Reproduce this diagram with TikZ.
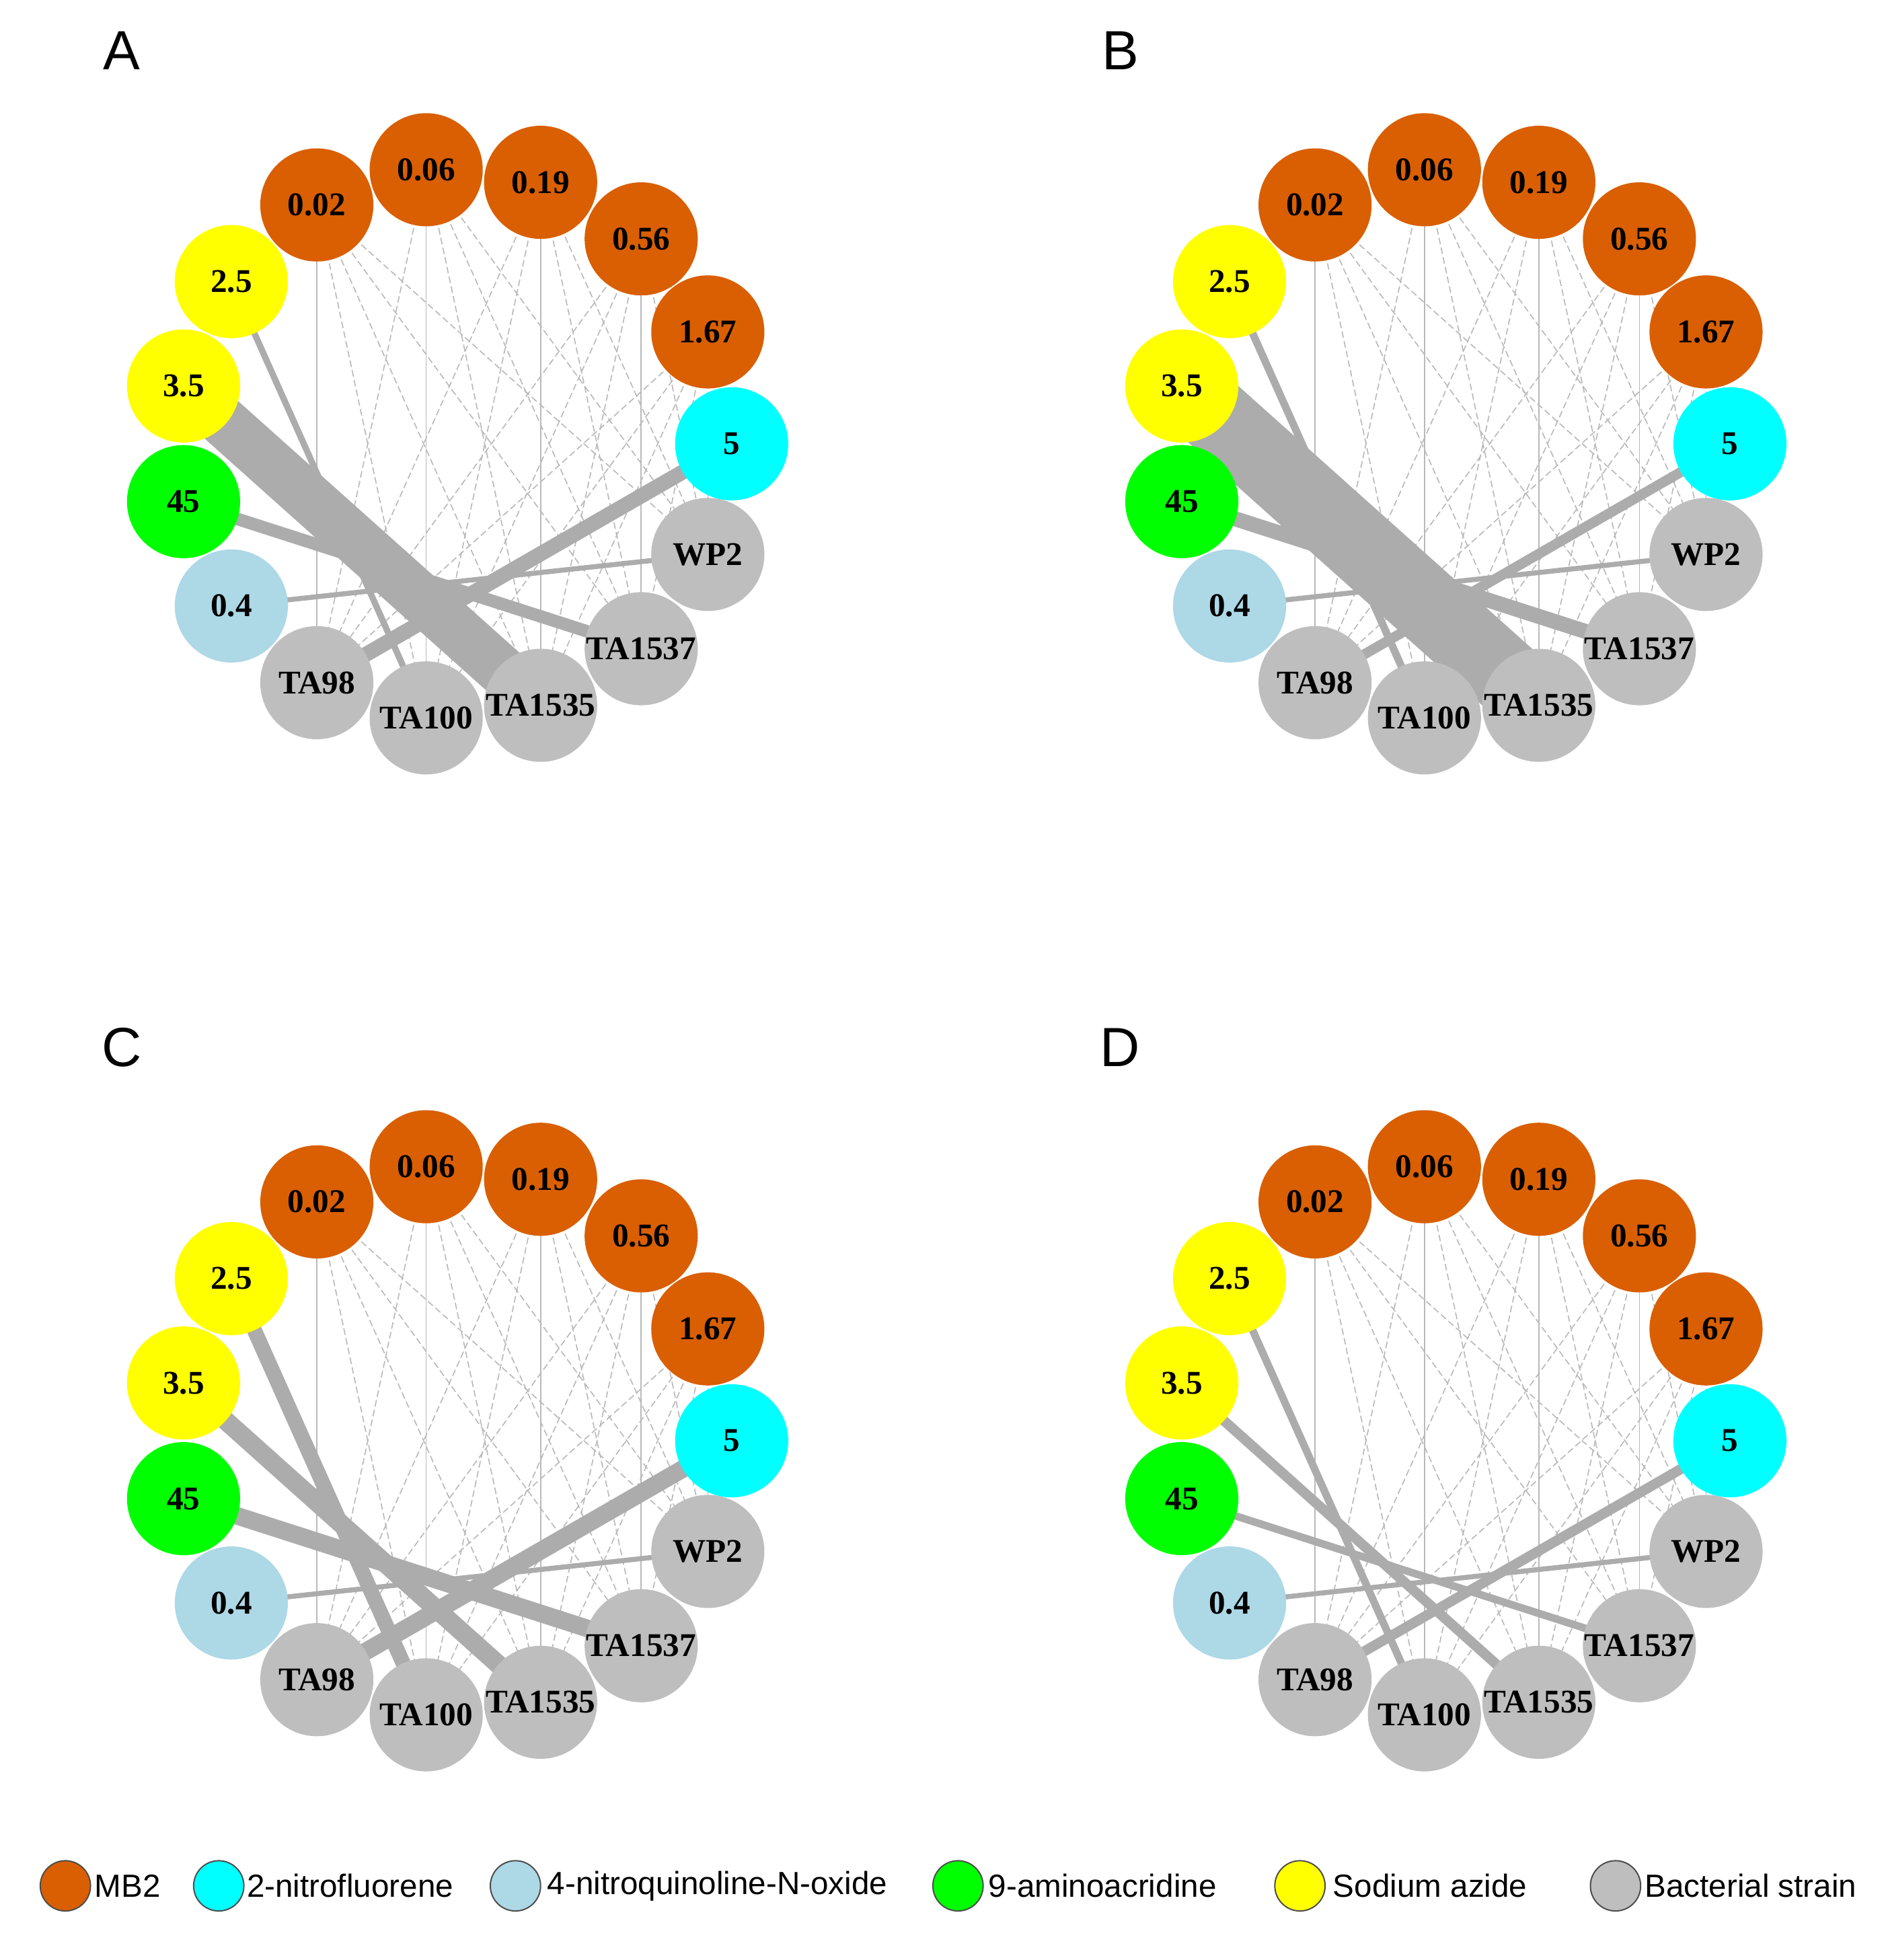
\documentclass[tikz,border=0pt]{standalone}
\usepackage{fontspec}
\setmainfont{Liberation Serif}
\newfontfamily\lsans{Liberation Sans}
\begin{document}
\begin{tikzpicture}[x=0.02cm,y=-0.02cm,
 nd/.style={circle,minimum size=1.8cm,inner sep=0pt,fill=#1,font=\fontsize{15}{15}\selectfont\bfseries},
 thin/.style={draw=gray!55,line width=0.5pt},
 thind/.style={draw=gray!55,line width=0.5pt,dash pattern=on 3pt off 1.5pt},
 thick/.style={draw=gray!65,line width=#1*0.02cm},
 lg/.style={circle,draw=black!70,line width=0.6pt,minimum size=0.8cm,inner sep=0pt,fill=#1},
 lt/.style={anchor=west,font=\lsans\fontsize{14.5}{14.5}\selectfont,inner sep=0pt}]
\definecolor{mb}{HTML}{D95F02}
\definecolor{nf}{HTML}{00FFFF}
\definecolor{nq}{HTML}{ADD8E6}
\definecolor{aa}{HTML}{00FF00}
\definecolor{sa}{HTML}{FFFF00}
\definecolor{bs}{HTML}{BEBEBE}
\useasboundingbox (0,0) rectangle (1500,1559);
\newcommand\mypanel[9]{%
\begin{scope}[shift={(#2,#3)}]
\coordinate (#1-c02) at (252,163);\coordinate (#1-c06) at (339,135);\coordinate (#1-c19) at (430,145);
\coordinate (#1-c56) at (510,190);\coordinate (#1-c167) at (563,264);\coordinate (#1-c5) at (582,353);
\coordinate (#1-cWP2) at (563,441);\coordinate (#1-c1537) at (510,516);\coordinate (#1-c1535) at (430,561);
\coordinate (#1-c100) at (339,571);\coordinate (#1-c98) at (252,543);\coordinate (#1-c04) at (184,482);
\coordinate (#1-c45) at (146,399);\coordinate (#1-c35) at (146,307);\coordinate (#1-c25) at (184,224);
\foreach \m/\s in {02/98,06/100,19/1535,56/1537}{\draw[thin] (#1-c\m)--(#1-c\s);}
\foreach \m in {02,06,19,56,167}{\foreach \s in {98,100,1535,1537,WP2}{\draw[thind] (#1-c\m)--(#1-c\s);}}
\draw[thick=#5] (#1-c25)--(#1-c100);
\draw[thick=#6] (#1-c35)--(#1-c1535);
\draw[thick=#7] (#1-c45)--(#1-c1537);
\draw[thick=#8] (#1-c04)--(#1-cWP2);
\draw[thick=#9] (#1-c5)--(#1-c98);
\node[nd=mb] (#1-n02) at (#1-c02) {0.02};
\node[nd=mb] (#1-n06) at (#1-c06) {0.06};
\node[nd=mb] (#1-n19) at (#1-c19) {0.19};
\node[nd=mb] (#1-n56) at (#1-c56) {0.56};
\node[nd=mb] (#1-n167) at (#1-c167) {1.67};
\node[nd=nf] (#1-n5) at (#1-c5) {5};
\node[nd=bs] (#1-nWP2) at (#1-cWP2) {WP2};
\node[nd=bs] (#1-n1537) at (#1-c1537) {TA1537};
\node[nd=bs] (#1-n1535) at (#1-c1535) {TA1535};
\node[nd=bs] (#1-n100) at (#1-c100) {TA100};
\node[nd=bs] (#1-n98) at (#1-c98) {TA98};
\node[nd=nq] (#1-n04) at (#1-c04) {0.4};
\node[nd=aa] (#1-n45) at (#1-c45) {45};
\node[nd=sa] (#1-n35) at (#1-c35) {3.5};
\node[nd=sa] (#1-n25) at (#1-c25) {2.5};
\node[font=\lsans\fontsize{25}{25}\selectfont] (#1-lab) at (97,40) {#4};
\end{scope}}
\mypanel{a}{0}{0}{A}{5}{40}{10}{4}{12}
\mypanel{b}{794}{0}{B}{6}{60}{12}{4}{8}
\mypanel{c}{0}{793}{C}{12}{15}{14}{4}{14}
\mypanel{d}{794}{793}{D}{6}{8}{6}{4}{8}
\node[lg=mb] (l1) at (52,1500) {};\node[lt] (t1) at (75,1500) {MB2};
\node[lg=nf] (l2) at (174,1500) {};\node[lt] (t2) at (196,1500) {2-nitrofluorene};
\node[lg=nq] (l3) at (410,1500) {};\node[lt] (t3) at (435,1500) {4-nitroquinoline-N-oxide};
\node[lg=aa] (l4) at (762,1500) {};\node[lt] (t4) at (786,1500) {9-aminoacridine};
\node[lg=sa] (l5) at (1034,1500) {};\node[lt] (t5) at (1060,1500) {Sodium azide};
\node[lg=bs] (l6) at (1285,1500) {};\node[lt] (t6) at (1308,1500) {Bacterial strain};
\end{tikzpicture}
\end{document}
